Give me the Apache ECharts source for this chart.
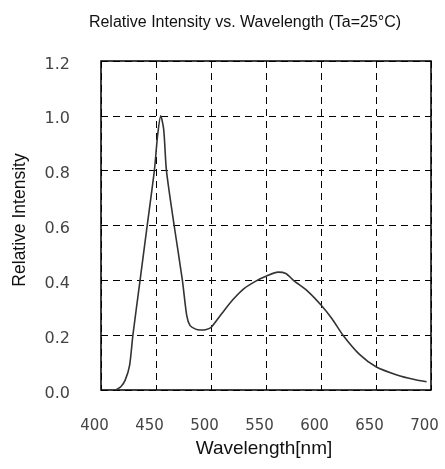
<!DOCTYPE html>
<html><head><meta charset="utf-8">
<script src="https://cdn.jsdelivr.net/npm/echarts@6/dist/echarts.min.js"></script>
<style>html,body{margin:0;padding:0;background:#fff}#c{width:445px;height:469px}</style>
</head><body><div id="c"></div>
<script>
var wavelengths = [413,418,422,426,429,435.5,442,448.5,451.5,454.3,457,459.5,466.5,474,478,481,486,490,495,500,510,520,530,542,550,561,568,575,588,600,610,620,635,650,669,685,696];
var intensity = [0,0.012,0.036,0.09,0.2,0.4,0.6,0.8,0.93,1.0,0.95,0.8,0.6,0.4,0.27,0.235,0.222,0.219,0.22,0.228,0.28,0.33,0.37,0.40,0.415,0.43,0.425,0.40,0.36,0.31,0.26,0.2,0.13,0.085,0.055,0.038,0.03];
var titleText = 'Relative Intensity vs. Wavelength (Ta=25\u00b0C)';
var xName = 'Wavelength[nm]';
var yName = 'Relative Intensity';

var data = wavelengths.map(function(w,i){return [w,intensity[i]];});
var chart = echarts.init(document.getElementById('c'));
var font = '"Liberation Sans",Arial,sans-serif';
chart.setOption({
  animation:false,
  backgroundColor:'#fff',
  title:{text:titleText,left:240,top:10,textAlign:'center',textStyle:{fontFamily:font,fontSize:16,fontWeight:'normal',color:'#111'}},
  grid:{left:101,top:61,right:14,bottom:79,show:true,borderColor:'#000',borderWidth:1.5},
  xAxis:{type:'value',min:400,max:700,interval:50,
    name:xName,nameLocation:'middle',nameGap:48,nameTextStyle:{fontFamily:font,fontSize:19,color:'#111',padding:[0,4,0,0]},
    axisLine:{show:false},axisTick:{show:false},
    axisLabel:{fontFamily:'DejaVu Sans',fontSize:15,color:'#444',margin:29,padding:[0,13,0,0]},
    splitLine:{show:true,lineStyle:{color:'#000',type:[7,5],width:1}}},
  yAxis:{type:'value',min:0,max:1.2,interval:0.2,
    name:yName,nameLocation:'middle',nameGap:72,nameRotate:90,nameTextStyle:{fontFamily:font,fontSize:17.5,color:'#111',padding:[0,0,0,11]},
    axisLine:{show:false},axisTick:{show:false},
    axisLabel:{color:'#444',margin:31,formatter:function(v){return '{a|'+v.toFixed(1)+'}';},
      rich:{a:{fontFamily:'DejaVu Sans',fontSize:16,color:'#444',padding:[7,0,0,0]}}},
    splitLine:{show:true,lineStyle:{color:'#000',type:[7,5],width:1}}},
  series:[{type:'line',data:data,smooth:0.25,showSymbol:false,lineStyle:{color:'#333',width:1.6}}]
});
</script></body></html>
